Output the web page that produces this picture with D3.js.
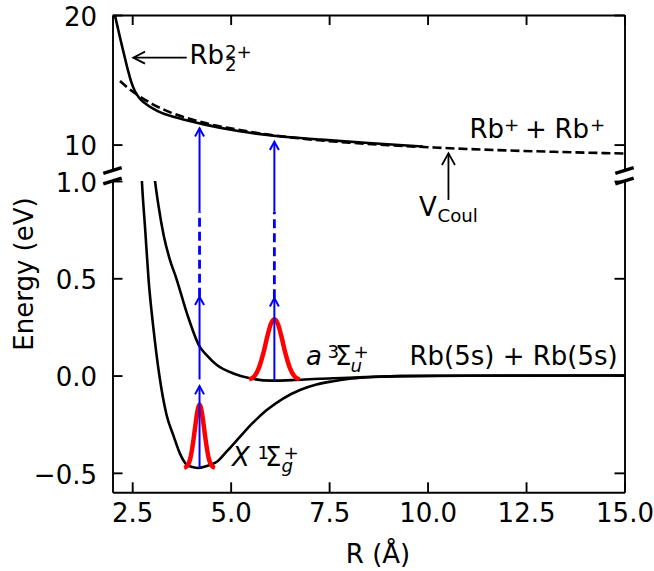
<!DOCTYPE html>
<html>
<head>
<meta charset="utf-8">
<script src="https://cdn.jsdelivr.net/npm/d3@7"></script>
<style>
  body { margin: 0; background: #fff; }
  svg { display: block; font-family: "DejaVu Sans", sans-serif; }
</style>
</head>
<body>
<svg id="chart" width="654" height="571"></svg>
<script>
// potential curves (R in Angstrom, E in eV)
const xStateR = [2.70, 2.746, 2.83, 2.916, 3.043, 3.19, 3.37, 3.55, 3.71, 3.88, 4.03, 4.18, 4.35, 4.5, 4.65, 4.9, 5.24, 5.53, 5.9, 6.33, 6.76, 7.18, 7.6, 8.02, 8.45, 9.29, 10.5, 12, 15];
const xStateE = [1.2, 1.0, 0.75, 0.493, 0.236, 0.0, -0.2, -0.31, -0.4, -0.457, -0.47, -0.475, -0.468, -0.457, -0.443, -0.39, -0.314, -0.25, -0.18, -0.118, -0.074, -0.046, -0.029, -0.016, -0.009, -0.003, -0.001, 0, 0];

const aStateR = [3.0, 3.08, 3.17, 3.3, 3.45, 3.62, 3.89, 4.21, 4.39, 4.65, 5.07, 5.49, 6.05, 6.6, 7.1, 7.6, 8.0, 8.45, 9.3, 11, 15];
const aStateE = [1.15, 1.0, 0.87, 0.72, 0.6, 0.5, 0.32, 0.15, 0.105, 0.054, 0.011, -0.014, -0.026, -0.023, -0.018, -0.014, -0.011, -0.008, -0.003, -0.001, 0];

const dicationR = [2.02, 2.06, 2.15, 2.23, 2.32, 2.40, 2.48, 2.57, 2.68, 2.82, 3.16, 3.67, 4.35, 5.19, 6.04, 7.3, 8.5, 9.88];
const dicationE = [20.55, 20.0, 18.8, 17.75, 16.62, 15.65, 14.8, 14.12, 13.6, 13.2, 12.56, 12.05, 11.54, 11.05, 10.7, 10.38, 10.12, 9.85];

const coulR = [2.19, 2.4, 2.6, 3.0, 3.5, 4.0, 4.5, 5.0, 6.0, 7.0, 8.0, 9.0, 10.0, 11.0, 12.0, 13.0, 14.0, 15.0];
const coulE = [14.9, 14.35, 13.9, 13.15, 12.45, 11.95, 11.55, 11.25, 10.75, 10.4, 10.15, 9.95, 9.8, 9.66, 9.55, 9.46, 9.38, 9.31];

// vibrational wavefunctions (red)
const wave1R = [3.82, 3.90, 3.97, 4.03, 4.09, 4.15, 4.21, 4.27, 4.33, 4.39, 4.45, 4.52, 4.60];
const wave1E = [-0.474, -0.464, -0.431, -0.366, -0.278, -0.191, -0.15, -0.191, -0.278, -0.366, -0.431, -0.464, -0.474];
const wave2R = [5.47, 5.60, 5.72, 5.83, 5.93, 6.02, 6.11, 6.20, 6.29, 6.39, 6.50, 6.62, 6.75];
const wave2E = [-0.020, -0.004, 0.041, 0.115, 0.2, 0.265, 0.29, 0.265, 0.2, 0.115, 0.041, -0.004, -0.020];

// blue excitation arrows
const arrowR = [4.21, 4.21, 6.11];
const arrowFrom = [-0.475, -0.02, -0.026];
const arrowTo = [-0.054, 0.405, 0.398];
const dashR = [4.21, 6.11];
const dashFrom = [0.405, 0.398];
const dashTo = [0.842, 0.842];
const topArrowR = [4.21, 6.11];
const topArrowTo = [11.26, 10.22];

// ticks
const xTicks = [2.5, 5, 7.5, 10, 12.5, 15];
const yTicksTop = [10, 20];
const yTicksBot = [-0.5, 0, 0.5, 1.0];

const svg = d3.select("#chart");
const font = "DejaVu Sans, sans-serif";
const big = 26, small = 18.2;

let x = d3.scaleLinear().domain([2, 15]).range([112.5, 624.5]);
let yTop = d3.scaleLinear().domain([8, 20]).range([170.5, 15]);
let yBot = d3.scaleLinear().domain([-0.6, 1.0]).range([492.3, 181]);

let zip = (a, b) => a.map((v, i) => [v, b[i]]);

let defs = svg.append("defs");
defs.append("clipPath").attr("id", "clipTop").append("rect")
  .attr("x", x(2)).attr("y", yTop(20)).attr("width", x(15) - x(2)).attr("height", yTop(8) - yTop(20));
defs.append("clipPath").attr("id", "clipBot").append("rect")
  .attr("x", x(2)).attr("y", yBot(1)).attr("width", x(15) - x(2)).attr("height", yBot(-0.6) - yBot(1));

let lineTop = d3.line().x(d => x(d[0])).y(d => yTop(d[1])).curve(d3.curveMonotoneX);
let lineBot = d3.line().x(d => x(d[0])).y(d => yBot(d[1])).curve(d3.curveMonotoneX);

// top panel curves
let gTop = svg.append("g").attr("clip-path", "url(#clipTop)");
gTop.append("path").attr("d", lineTop(zip(dicationR, dicationE)))
  .attr("fill", "none").attr("stroke", "black").attr("stroke-width", 2.6);
gTop.append("path").attr("d", lineTop(zip(coulR, coulE)))
  .attr("fill", "none").attr("stroke", "black").attr("stroke-width", 2.6)
  .attr("stroke-dasharray", "9,4");

// bottom panel curves
let gBot = svg.append("g").attr("clip-path", "url(#clipBot)");
[zip(xStateR, xStateE), zip(aStateR, aStateE)].forEach(pts => {
  gBot.append("path").attr("d", lineBot(pts))
    .attr("fill", "none").attr("stroke", "black").attr("stroke-width", 2.6);
});
[zip(wave1R, wave1E), zip(wave2R, wave2E)].forEach(pts => {
  gBot.append("path").attr("d", lineBot(pts))
    .attr("fill", "none").attr("stroke", "red").attr("stroke-width", 4.5)
    .attr("stroke-linejoin", "round");
});

// arrows
let arrow = (g, px, y1, y2, color, w, hw, hl) => {
  g.append("line").attr("x1", px).attr("x2", px).attr("y1", y1).attr("y2", y2)
    .attr("stroke", color).attr("stroke-width", w);
  g.append("path")
    .attr("d", `M${px - hw},${y2 + hl}L${px},${y2}L${px + hw},${y2 + hl}`)
    .attr("fill", "none").attr("stroke", color).attr("stroke-width", w);
};

let gBlue = svg.append("g");
arrowR.forEach((r, i) => arrow(gBlue, x(r), yBot(arrowFrom[i]), yBot(arrowTo[i]), "blue", 2, 4.5, 8.3));
dashR.forEach((r, i) => {
  gBlue.append("line").attr("x1", x(r)).attr("x2", x(r))
    .attr("y1", yBot(dashFrom[i])).attr("y2", yBot(dashTo[i]))
    .attr("stroke", "blue").attr("stroke-width", 2.8).attr("stroke-dasharray", "9,5");
});
topArrowR.forEach((r, i) => {
  gBlue.append("line").attr("x1", x(r)).attr("x2", x(r))
    .attr("y1", yBot(dashTo[i])).attr("y2", yBot(1))
    .attr("stroke", "blue").attr("stroke-width", 2);
  arrow(gBlue, x(r), yBot(1), yTop(topArrowTo[i]), "blue", 2, 4.5, 8.3);
});

// axes
let styleAxis = g => {
  g.selectAll(".domain").attr("stroke-width", 1.9);
  g.selectAll(".tick line").attr("stroke-width", 1.9);
  g.selectAll("text").attr("font-size", big).attr("font-family", font).attr("fill", "black");
};
let none = () => "";

svg.append("g").attr("transform", `translate(0,${yBot(-0.6)})`)
  .call(d3.axisBottom(x).tickValues(xTicks).tickFormat(d3.format(".1f"))
    .tickSizeInner(-10).tickSizeOuter(0).tickPadding(10.9))
  .call(styleAxis);
svg.append("g").attr("transform", `translate(0,${yTop(20)})`)
  .call(d3.axisTop(x).tickValues(xTicks).tickFormat(none).tickSizeInner(-10).tickSizeOuter(0))
  .call(styleAxis);

svg.append("g").attr("transform", `translate(${x(2)},0)`)
  .call(d3.axisLeft(yTop).tickValues(yTicksTop).tickFormat(d3.format("d"))
    .tickSizeInner(-10).tickSizeOuter(0).tickPadding(15.5))
  .call(styleAxis)
  .selectAll("text").attr("dy", "0.4em");
svg.append("g").attr("transform", `translate(${x(2)},0)`)
  .call(d3.axisLeft(yBot).tickValues(yTicksBot).tickFormat(d3.format(".1f"))
    .tickSizeInner(-10).tickSizeOuter(0).tickPadding(15.5))
  .call(styleAxis)
  .selectAll("text").attr("dy", "0.4em");
svg.append("g").attr("transform", `translate(${x(15)},0)`)
  .call(d3.axisRight(yTop).tickValues(yTicksTop).tickFormat(none).tickSizeInner(-10).tickSizeOuter(0))
  .call(styleAxis);
svg.append("g").attr("transform", `translate(${x(15)},0)`)
  .call(d3.axisRight(yBot).tickValues(yTicksBot).tickFormat(none).tickSizeInner(-10).tickSizeOuter(0))
  .call(styleAxis);

// break marks
[x(2), x(15)].forEach(px => {
  [yTop(8), yBot(1)].forEach(py => {
    svg.append("line").attr("x1", px - 9.2).attr("y1", py + 2.9)
      .attr("x2", px + 9.2).attr("y2", py - 2.9)
      .attr("stroke", "black").attr("stroke-width", 3.5);
  });
});

// axis titles
svg.append("text").attr("x", 378).attr("y", 563).attr("text-anchor", "middle")
  .attr("font-size", big).attr("font-family", font).text("R (Å)");
svg.append("text").attr("transform", "translate(33.3,274) rotate(-90)")
  .attr("text-anchor", "middle").attr("font-size", big).attr("font-family", font)
  .text("Energy (eV)");

// labels: one text per label, pieces placed as tspans (offsets in px from the anchor)
let label = (px, py, parts) => {
  let t = svg.append("text").attr("font-family", font).attr("font-size", big);
  parts.forEach(p => {
    t.append("tspan").attr("x", px + (p.dx || 0)).attr("y", py + (p.dy || 0))
      .attr("font-size", p.s || big)
      .attr("font-style", p.it ? "italic" : "normal")
      .text(p.t);
  });
};

label(x(3.955), yTop(16.195), [
  { t: "Rb" }, { t: "2", dx: 35.5, dy: 6.7, s: small }, { t: "2+", dx: 35.5, dy: -6.8, s: small }
]);
label(x(11.064), yTop(10.485), [
  { t: "Rb" }, { t: "+", dx: 34.5, dy: -7.3, s: small }, { t: "+", dx: 55.5 },
  { t: "Rb", dx: 85 }, { t: "+", dx: 120.5, dy: -7.3, s: small }
]);
label(x(9.782), yTop(4.488), [
  { t: "V" }, { t: "Coul", dx: 18.5, dy: 5.7, s: small }
]);
label(x(6.913), yBot(0.054), [
  { t: "a", it: true }, { t: "3", dx: 21.5, dy: -6.7, s: small }, { t: "Σ", dx: 29 },
  { t: "u", dx: 44.5, dy: 6.7, s: small, it: true }, { t: "+", dx: 47.5, dy: -7, s: small }
]);
label(x(9.541), yBot(0.054), [{ t: "Rb(5s) + Rb(5s)" }]);
label(x(5.034), yBot(-0.4648), [
  { t: "X", it: true }, { t: "1", dx: 25.5, dy: -7, s: small }, { t: "Σ", dx: 33 },
  { t: "g", dx: 49.5, dy: 6, s: small, it: true }, { t: "+", dx: 51.5, dy: -7, s: small }
]);

// black annotation arrows
let gAnn = svg.append("g");
let rbTip = [2.528, 16.71], rbTail = 3.885;
gAnn.append("line").attr("x1", x(rbTail)).attr("x2", x(rbTip[0]))
  .attr("y1", yTop(rbTip[1])).attr("y2", yTop(rbTip[1]))
  .attr("stroke", "black").attr("stroke-width", 1.8);
gAnn.append("path")
  .attr("d", `M${x(rbTip[0]) + 11.7},${yTop(rbTip[1]) - 6}L${x(rbTip[0])},${yTop(rbTip[1])}L${x(rbTip[0]) + 11.7},${yTop(rbTip[1]) + 6}`)
  .attr("fill", "none").attr("stroke", "black").attr("stroke-width", 1.8);
arrow(gAnn, x(10.53), yTop(5.73), yTop(9.33), "black", 1.8, 6.5, 11.7);
</script>
</body>
</html>
